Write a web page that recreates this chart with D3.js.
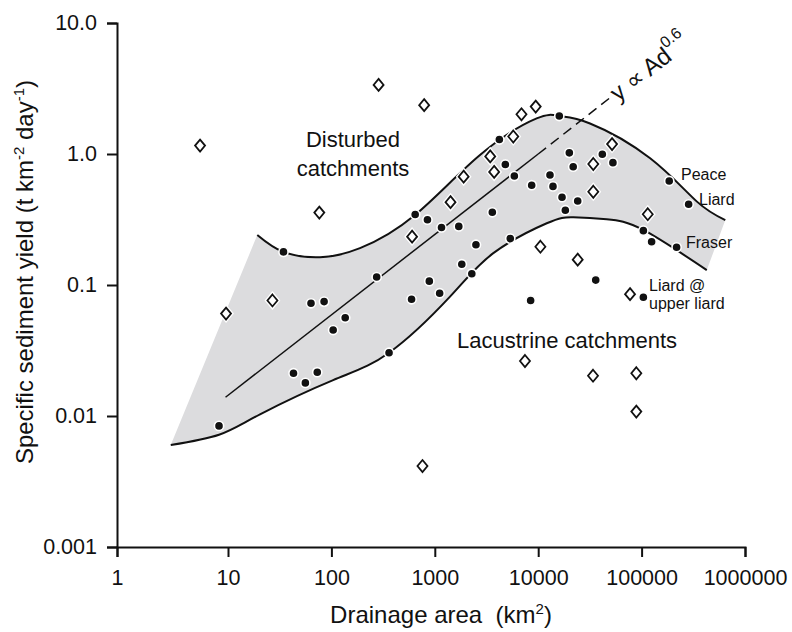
<!DOCTYPE html>
<html>
<head>
<meta charset="utf-8">
<style>
  body { margin: 0; background: #fff; }
  svg { display: block; }
  text { font-family: "Liberation Sans", Arial, Helvetica, sans-serif; fill: #111; }
  .axis .tick text { font-size: 21.5px; fill: #111; }
  .axis path, .axis line { stroke: #111; stroke-width: 2; }
  .axis-title { font-size: 24px; white-space: pre; }
  .zone { font-size: 22px; }
  .river { font-size: 16px; }
</style>
</head>
<body>
<svg width="792" height="632"></svg>
<script src="https://cdn.jsdelivr.net/npm/d3@7"></script>
<script>
// ticks
const xTicks = [1, 10, 100, 1000, 10000, 100000, 1000000];
const xTickLabels = ["1", "10", "100", "1000", "10000", "100000", "1000000"];
const yTicks = [0.001, 0.01, 0.1, 1, 10];
const yTickLabels = ["0.001", "0.01", "0.1", "1.0", "10.0"];

// [drainage area km2, specific yield t km-2 day-1]
const riverPoints = [
  [8.3, 0.0084], [63.5, 0.0725], [85, 0.0747], [104, 0.0453], [136, 0.0562],
  [43, 0.0212], [56, 0.0179], [73, 0.0216], [361, 0.0304], [596, 0.0778],
  [885, 0.107], [1114, 0.0865], [274, 0.115], [34.4, 0.179], [16000, 1.95],
  [4210, 1.29], [4810, 0.832], [5880, 0.679], [646, 0.345], [849, 0.315],
  [1161, 0.275], [1706, 0.28], [3600, 0.359], [2500, 0.203], [1824, 0.144],
  [2280, 0.122], [5370, 0.226], [8650, 0.578], [13000, 0.692], [13900, 0.566],
  [17000, 0.468], [18300, 0.372], [20000, 1.02], [21800, 0.80], [24100, 0.438],
  [8450, 0.0762], [41700, 0.995], [52800, 0.859], [185000, 0.622], [285000, 0.413],
  [104000, 0.26], [125000, 0.214], [218000, 0.194], [36000, 0.109], [104000, 0.0806]
];

const lakePoints = [
  [5.6, 1.16], [9.6, 0.0605], [26.9, 0.0762], [76.4, 0.357], [286, 3.37],
  [789, 2.36], [603, 0.234], [1419, 0.429], [1901, 0.671], [3435, 0.959],
  [3750, 0.73], [5740, 1.36], [6890, 2.01], [9460, 2.30], [10500, 0.196],
  [24100, 0.156], [51800, 1.19], [34100, 0.839], [34100, 0.515], [114700, 0.347],
  [77300, 0.0851], [7450, 0.0263], [33900, 0.0203], [88900, 0.0212], [88900, 0.0108],
  [760, 0.00415]
];

const upperEnvelope = [
  [19.2, 0.241], [34.3, 0.179], [77.6, 0.163], [189, 0.191], [643, 0.342],
  [2735, 0.982], [9660, 1.87], [16000, 1.95], [31700, 1.71], [121000, 0.927],
  [343000, 0.433], [645000, 0.313]
];

const lowerEnvelope = [
  [3.05, 0.0060], [8.3, 0.0072], [20.4, 0.0103], [104, 0.0188], [361, 0.0304],
  [1403, 0.0815], [3680, 0.175], [12100, 0.296], [21900, 0.329], [46000, 0.318],
  [104000, 0.263], [427000, 0.130]
];

const trendSolid = [[9.5, 0.0139], [10000, 1.0]];
const trendDashed = [[10000, 1.0], [49000, 2.67]];

const svg = d3.select("svg");

// first decade is drawn a bit wider in the original
const x = d3.scaleLog().domain([1, 10, 1e6]).range([117, 228, 745]);
const y = d3.scaleLog().domain([0.001, 10]).range([547, 23]);

const line = d3.line()
  .x(d => x(d[0]))
  .y(d => y(d[1]))
  .curve(d3.curveNatural);

// grey envelope
let up = line(upperEnvelope);
let lowRev = line(lowerEnvelope.slice().reverse());
svg.append("path")
  .attr("d", up + "L" + lowRev.slice(1) + "Z")
  .attr("fill", "#dcdcde");

svg.append("path").attr("d", up)
  .attr("fill", "none").attr("stroke", "#111").attr("stroke-width", 2);
svg.append("path").attr("d", line(lowerEnvelope))
  .attr("fill", "none").attr("stroke", "#111").attr("stroke-width", 2);

// trend line
let straight = d3.line().x(d => x(d[0])).y(d => y(d[1]));
svg.append("path").attr("d", straight(trendSolid))
  .attr("fill", "none").attr("stroke", "#111").attr("stroke-width", 1.5);
svg.append("path").attr("d", straight(trendDashed))
  .attr("fill", "none").attr("stroke", "#111").attr("stroke-width", 1.5)
  .attr("stroke-dasharray", "10,6");

// axes
svg.append("g")
  .attr("class", "axis")
  .attr("transform", "translate(0,547)")
  .call(d3.axisBottom(x).tickValues(xTicks)
    .tickFormat((d, i) => xTickLabels[i])
    .tickSize(10).tickPadding(13));

svg.append("g")
  .attr("class", "axis")
  .attr("transform", "translate(117,0)")
  .call(d3.axisLeft(y).tickValues(yTicks)
    .tickFormat((d, i) => yTickLabels[i])
    .tickSize(10).tickPadding(10));

// points
const diamond = "M0,-6L5,0L0,6L-5,0Z";
let lakes = svg.append("g");
lakes.selectAll("path.halo")
  .data(lakePoints)
  .join("path")
  .attr("class", "halo")
  .attr("d", diamond)
  .attr("transform", d => `translate(${x(d[0])},${y(d[1])})`)
  .attr("fill", "#fff").attr("stroke", "#fff").attr("stroke-width", 4.5);
lakes.selectAll("path.mark")
  .data(lakePoints)
  .join("path")
  .attr("class", "mark")
  .attr("d", diamond)
  .attr("transform", d => `translate(${x(d[0])},${y(d[1])})`)
  .attr("fill", "#fff").attr("stroke", "#111").attr("stroke-width", 1.8);

svg.append("g")
  .selectAll("circle")
  .data(riverPoints)
  .join("circle")
  .attr("cx", d => x(d[0]))
  .attr("cy", d => y(d[1]))
  .attr("r", 4.6)
  .attr("fill", "#111")
  .attr("stroke", "#fff")
  .attr("stroke-width", 1.6);

// labels
svg.append("text").attr("class", "zone").attr("x", 353).attr("y", 147)
  .attr("text-anchor", "middle").text("Disturbed");
svg.append("text").attr("class", "zone").attr("x", 353).attr("y", 176)
  .attr("text-anchor", "middle").text("catchments");
svg.append("text").attr("class", "zone").attr("x", 457).attr("y", 348)
  .text("Lacustrine catchments");

svg.append("text").attr("class", "river").attr("x", 681).attr("y", 180).text("Peace");
svg.append("text").attr("class", "river").attr("x", 699).attr("y", 205).text("Liard");
svg.append("text").attr("class", "river").attr("x", 686).attr("y", 248).text("Fraser");
svg.append("text").attr("class", "river").attr("x", 649).attr("y", 291).text("Liard @");
svg.append("text").attr("class", "river").attr("x", 649).attr("y", 309).text("upper liard");

// power-law label along the dashed line
let p0 = [x(trendDashed[0][0]), y(trendDashed[0][1])];
let p1 = [x(trendDashed[1][0]), y(trendDashed[1][1])];
let ang = Math.atan2(p1[1] - p0[1], p1[0] - p0[0]);
let lx = p1[0] + 4 * Math.cos(ang), ly = p1[1] + 4 * Math.sin(ang);
let eq = svg.append("text")
  .attr("transform", `translate(${lx},${ly}) rotate(${ang * 180 / Math.PI})`)
  .attr("dy", "0.35em")
  .style("font-size", "24px");
eq.append("tspan").text("y \u221D Ad");
eq.append("tspan").attr("dy", -13).style("font-size", "16px").text("0.6");

// axis titles
let xt = svg.append("text").attr("class", "axis-title")
  .attr("x", 441).attr("y", 623).attr("text-anchor", "middle");
xt.append("tspan").text("Drainage area  (km");
xt.append("tspan").attr("dy", -9).style("font-size", "15px").text("2");
xt.append("tspan").attr("dy", 9).text(")");

let yt = svg.append("text").attr("class", "axis-title")
  .attr("transform", "translate(33,272) rotate(-90)")
  .attr("text-anchor", "middle");
yt.append("tspan").text("Specific sediment yield (t km");
yt.append("tspan").attr("dy", -9).style("font-size", "15px").text("-2");
yt.append("tspan").attr("dy", 9).text(" day");
yt.append("tspan").attr("dy", -9).style("font-size", "15px").text("-1");
yt.append("tspan").attr("dy", 9).text(")");
</script>
</body>
</html>
